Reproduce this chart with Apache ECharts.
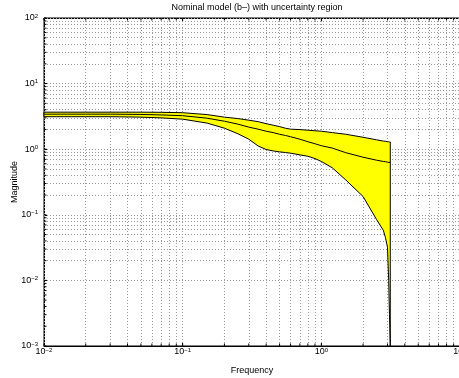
<!DOCTYPE html>
<html>
<head>
<meta charset="utf-8">
<script src="https://cdn.jsdelivr.net/npm/echarts@6/dist/echarts.min.js"></script>
<style>
  html, body { margin: 0; padding: 0; background: #fff; }
  #chart { width: 459px; height: 378px; }
</style>
</head>
<body>
<div id="chart"></div>
<script>
// frequency grid and the three curves
const freq = [0.01, 0.02, 0.03, 0.05, 0.07, 0.1, 0.15, 0.2, 0.25, 0.3, 0.35, 0.4, 0.45, 0.5, 0.55, 0.6, 0.7, 0.8, 0.9, 1.0, 1.2, 1.5, 2.0, 2.5, 2.8, 2.9, 3.0, 3.06, 3.1, 3.1416];
const upper = [3.67, 3.67, 3.67, 3.67, 3.65, 3.6, 3.37, 3.08, 2.93, 2.77, 2.63, 2.45, 2.32, 2.21, 2.09, 2.02, 1.99, 1.95, 1.91, 1.88, 1.79, 1.69, 1.52, 1.39, 1.33, 1.32, 1.30, 1.30, 1.29, 1.29];
const nominal = [3.42, 3.42, 3.42, 3.39, 3.33, 3.24, 2.97, 2.67, 2.41, 2.17, 2.02, 1.88, 1.79, 1.69, 1.62, 1.55, 1.42, 1.30, 1.21, 1.13, 1.04, 0.885, 0.755, 0.68, 0.65, 0.645, 0.634, 0.63, 0.628, 0.626];
const lower = [3.13, 3.13, 3.13, 3.08, 3.0, 2.87, 2.5, 2.09, 1.72, 1.42, 1.12, 0.99, 0.94, 0.91, 0.89, 0.87, 0.82, 0.78, 0.72, 0.65, 0.52, 0.34, 0.19, 0.085, 0.058, 0.045, 0.032, 0.01, 0.003, 0.001];

// decades for ticks / grid
const xDecades = [-2, -1, 0, 1];
const yDecades = [-3, -2, -1, 0, 1, 2];

const FONT = 'Liberation Sans, Arial, sans-serif';

function gridValues(decades) {
  const out = [];
  for (let i = 0; i < decades.length - 1; i++) {
    for (let k = 1; k <= 9; k++) out.push(k * Math.pow(10, decades[i]));
  }
  out.push(Math.pow(10, decades[decades.length - 1]));
  return out;
}

function powLabel(v) {
  const e = Math.round(Math.log10(v));
  return '{b|10}{s|' + String(e).replace('-', '\u2212') + '}';
}

const labelRich = {
  b: { fontSize: 9, fontFamily: FONT, color: '#000', lineHeight: 10 },
  s: { fontSize: 6, fontFamily: FONT, color: '#000', lineHeight: 6, verticalAlign: 'top' }
};

const xGrid = gridValues(xDecades);
const yGrid = gridValues(yDecades);

const gridLines = [];
xGrid.forEach(v => gridLines.push({ xAxis: v }));
yGrid.forEach(v => gridLines.push({ yAxis: v }));

const chart = echarts.init(document.getElementById('chart'));

const option = {
  animation: false,
  backgroundColor: '#fff',
  title: {
    text: 'Nominal model (b\u2013) with uncertainty region',
    left: 252,
    textAlign: 'center',
    top: -2,
    textStyle: { fontSize: 9, fontWeight: 'normal', fontFamily: FONT, color: '#000' }
  },
  grid: {
    left: 44, top: 18, width: 416, height: 328,
    containLabel: false, outerBoundsMode: 'none',
    show: true, borderColor: '#000', borderWidth: 1, backgroundColor: 'transparent'
  },
  xAxis: [{
    type: 'log', logBase: 10, min: 0.01, max: 10, interval: 1,
    name: 'Frequency', nameLocation: 'middle', nameGap: 20, nameMoveOverlap: false,
    nameTextStyle: { fontSize: 9, fontFamily: FONT, color: '#000' },
    axisLine: { show: true, lineStyle: { color: '#000', width: 1 } },
    axisTick: { show: true, inside: true, length: 4, lineStyle: { color: '#000' } },
    axisLabel: { margin: 1, formatter: powLabel, rich: labelRich, showMaxLabel: true },
    splitLine: { show: false }
  }, {
    type: 'log', logBase: 10, min: 0.01, max: 10, interval: 1, position: 'top',
    axisLine: { show: true, lineStyle: { color: '#000', width: 1 } },
    axisTick: { show: true, inside: true, length: 4, lineStyle: { color: '#000' } },
    axisLabel: { show: false },
    splitLine: { show: false }
  }],
  yAxis: {
    type: 'log', logBase: 10, min: 0.001, max: 100, interval: 1,
    name: 'Magnitude', nameLocation: 'middle', nameGap: 25, nameRotate: 90, nameMoveOverlap: false,
    nameTextStyle: { fontSize: 9, fontFamily: FONT, color: '#000' },
    axisLine: { show: true, lineStyle: { color: '#000', width: 1 } },
    axisTick: { show: true, inside: true, length: 4, lineStyle: { color: '#000' } },
    axisLabel: { margin: 6, formatter: powLabel, rich: labelRich },
    splitLine: { show: false }
  },
  series: [
    {
      // dotted grid (major + minor)
      type: 'line',
      data: [],
      z: 1,
      silent: true,
      markLine: {
        silent: true,
        symbol: 'none',
        animation: false,
        label: { show: false },
        lineStyle: { color: '#999', type: [1, 2], width: 1 },
        data: gridLines
      }
    },
    {
      // minor ticks, inward on bottom, top and left
      type: 'custom',
      coordinateSystem: 'cartesian2d',
      z: 7,
      silent: true,
      clip: false,
      data: [[0.01, 0.001]],
      renderItem: function (params, api) {
        const kids = [];
        const st = { stroke: '#000', lineWidth: 1 };
        xGrid.forEach(v => {
          const b = api.coord([v, 0.001]);
          const t = api.coord([v, 100]);
          kids.push({ type: 'line', shape: { x1: b[0], y1: b[1], x2: b[0], y2: b[1] - 2.5 }, style: st });
          kids.push({ type: 'line', shape: { x1: t[0], y1: t[1], x2: t[0], y2: t[1] + 2.5 }, style: st });
        });
        yGrid.forEach(v => {
          const l = api.coord([0.01, v]);
          kids.push({ type: 'line', shape: { x1: l[0], y1: l[1], x2: l[0] + 2.5, y2: l[1] }, style: st });
        });
        return { type: 'group', children: kids };
      }
    },
    {
      type: 'custom',
      coordinateSystem: 'cartesian2d',
      z: 5,
      silent: true,
      data: [[freq[0], upper[0]]],
      renderItem: function (params, api) {
        const pts = [];
        for (let i = 0; i < freq.length; i++) pts.push(api.coord([freq[i], upper[i]]));
        for (let i = freq.length - 1; i >= 0; i--) pts.push(api.coord([freq[i], lower[i]]));
        return {
          type: 'polygon',
          shape: { points: pts },
          style: { fill: '#ffff00', stroke: '#000', lineWidth: 1 }
        };
      }
    },
    {
      type: 'line',
      z: 6,
      data: freq.map((f, i) => [f, nominal[i]]),
      showSymbol: false,
      symbol: 'none',
      lineStyle: { color: '#000', width: 1 }
    }
  ]
};

chart.setOption(option);
</script>
</body>
</html>
